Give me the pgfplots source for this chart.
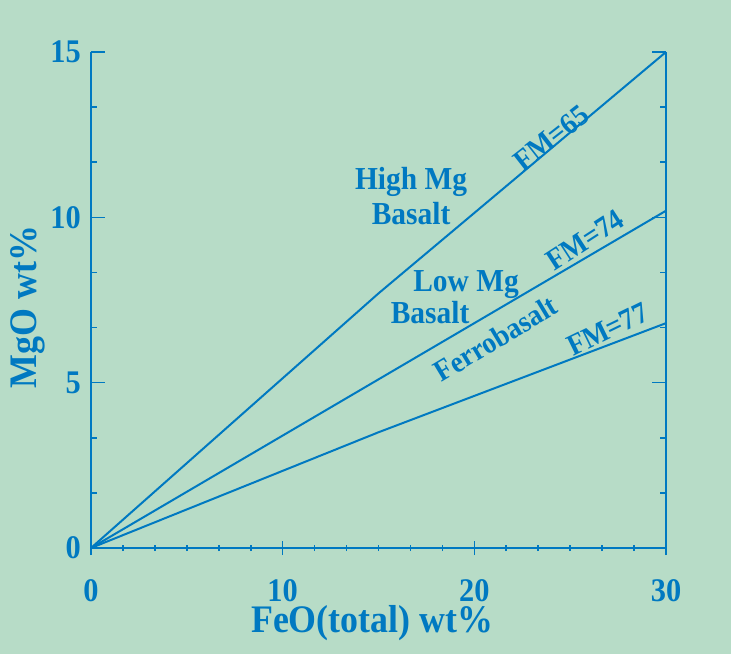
\documentclass[border=0pt]{standalone}
\usepackage{fontspec}
\setmainfont{Liberation Serif}[FakeStretch=0.92]
\usepackage{pgfplots}
\pgfplotsset{compat=1.18}
\definecolor{bg}{RGB}{183,220,199}
\definecolor{ink}{RGB}{0,121,193}
\begin{document}
\begin{tikzpicture}
\useasboundingbox (-91pt,-106pt) rectangle (640pt,548pt);
\fill[bg] (-91pt,-106pt) rectangle (640pt,548pt);
\begin{axis}[
  at={(0pt,0pt)}, anchor=south west,
  scale only axis, width=575pt, height=496pt,
  xmin=0, xmax=30, ymin=0, ymax=15,
  axis x line=bottom, axis y line=box,
  axis line style={-, draw=ink, line width=2pt},
  xtick={0,10,20,30}, ytick={0,5,10,15},
  minor x tick num=5, minor y tick num=2,
  major tick length=14pt, minor tick length=6pt,
  every tick/.style={draw=ink, line width=1.6pt},
  /pgf/number format/assume math mode=true,
  every tick label/.append style={font=\fontsize{33}{36}\selectfont\bfseries, text=ink, inner sep=0pt},
  xticklabel style={yshift=-24pt},
  yticklabel style={xshift=-10pt},
  every axis x label/.style={at={(axis description cs:0.489,-0.151)}, anchor=center},
  every axis y label/.style={at={(axis description cs:-0.1096,0.486)}, anchor=center, rotate=90},
  xlabel={FeO(total) wt\%}, ylabel={MgO wt\%},
  label style={font=\fontsize{39}{42}\selectfont\bfseries, text=ink},
  clip=false,
]
\addplot[ink, line width=2pt] coordinates {(0,0) (15,7.7) (30,15)};
\addplot[ink, line width=2pt] coordinates {(0,0) (15,5.1) (30,10.2)};
\addplot[ink, line width=2pt] coordinates {(0,0) (15,3.5) (30,6.8)};
\begin{scope}[every node/.style={text=ink, inner sep=0pt, font=\fontsize{32}{35}\selectfont\bfseries}]
\node[align=center] at (axis cs:16.7,10.65) {High Mg\\Basalt};
\node at (axis cs:19.57,7.98) {Low Mg};
\node at (axis cs:17.69,7.11) {Basalt};
\node[rotate=31, font=\fontsize{30}{33}\selectfont\bfseries] at (axis cs:21.1,6.33) {Ferrobasalt};
\node[rotate=38, font=\fontsize{30}{33}\selectfont\bfseries] at (axis cs:24.0,12.40) {FM=65};
\node[rotate=33, font=\fontsize{30}{33}\selectfont\bfseries] at (axis cs:25.77,9.31) {FM=74};
\node[rotate=26, font=\fontsize{30}{33}\selectfont\bfseries] at (axis cs:26.95,6.62) {FM=77};
\end{scope}
\end{axis}
\end{tikzpicture}
\end{document}
